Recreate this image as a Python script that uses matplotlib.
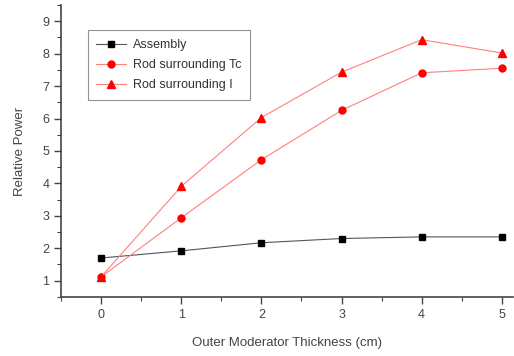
import matplotlib
matplotlib.use("Agg")
import matplotlib.pyplot as plt
from matplotlib.ticker import MultipleLocator

plt.rcParams['font.family'] = ['Liberation Sans', 'DejaVu Sans']

thickness = [0, 1, 2, 3, 4, 5]
assembly = [1.70, 1.92, 2.17, 2.30, 2.35, 2.35]
rod_tc = [1.12, 2.94, 4.73, 6.25, 7.41, 7.55]
rod_i = [1.12, 3.91, 6.03, 7.43, 8.43, 8.02]

fig = plt.figure(figsize=(5.14, 3.56), dpi=100)
ax = fig.add_axes([0.119, 0.166, 0.879, 0.820])

ax.plot(thickness, assembly, color='#555555', lw=0.8, marker='s', ms=4.5,
        mfc='black', mec='black', label='Assembly')
ax.plot(thickness, rod_tc, color='#ff8080', lw=0.8, marker='o', ms=5,
        mfc='red', mec='red', label='Rod surrounding Tc')
ax.plot(thickness, rod_i, color='#ff8080', lw=0.8, marker='^', ms=5.5,
        mfc='red', mec='red', label='Rod surrounding I')

ax.set_xlim(-0.5, 5.14)
ax.set_ylim(0.5, 9.5)
ax.xaxis.set_major_locator(MultipleLocator(1))
ax.xaxis.set_minor_locator(MultipleLocator(0.5))
ax.yaxis.set_major_locator(MultipleLocator(1))
ax.yaxis.set_minor_locator(MultipleLocator(0.5))

for s in ['top', 'right']:
    ax.spines[s].set_visible(False)
for s in ['left', 'bottom']:
    ax.spines[s].set_color('#444444')
    ax.spines[s].set_linewidth(1.2)

ax.tick_params(which='major', direction='out', length=5, width=1,
               color='#444444', labelsize=9, labelcolor='#444444')
ax.tick_params(which='minor', direction='out', length=3, width=0.8,
               color='#444444')

ax.set_xlabel('Outer Moderator Thickness (cm)', fontsize=9.5,
              color='#444444', labelpad=12)
ax.set_ylabel('Relative Power', fontsize=9.5, color='#444444', labelpad=12)

leg = ax.legend(loc='upper left', bbox_to_anchor=(0.045, 0.935), fontsize=9,
                frameon=True, fancybox=False, borderpad=0.7, labelspacing=0.65,
                handlelength=2.4, handletextpad=0.5)
leg.get_frame().set_edgecolor('#777777')
leg.get_frame().set_linewidth(0.8)
for t in leg.get_texts():
    t.set_color('#333333')

fig.savefig('out.png', dpi=100)
